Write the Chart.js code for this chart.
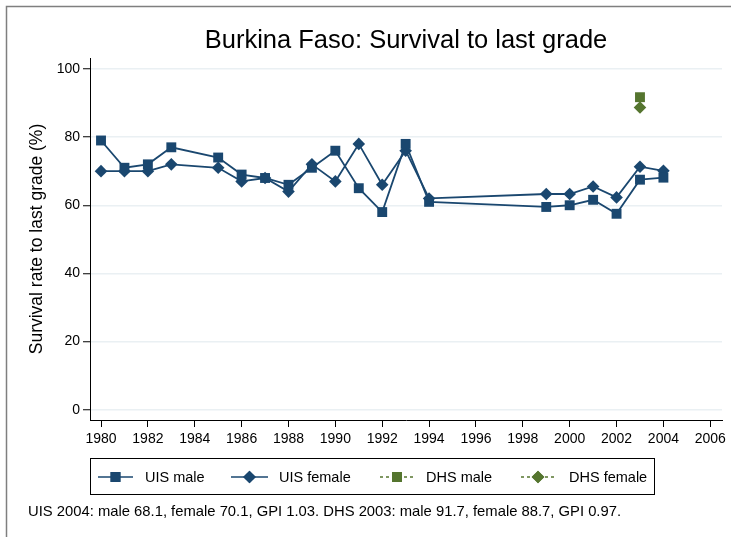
<!DOCTYPE html>
<html lang="en">
  <head>
    <meta charset="UTF-8" />
    <script src="https://cdn.jsdelivr.net/npm/chart.js@4.4.0/dist/chart.umd.min.js"></script>
    <title>Burkina Faso: Survival to last grade</title>
    <style>
      body {
        margin: 0;
        padding: 0;
        background: white;
      }
      canvas {
        display: block;
      }
    </style>
  </head>
  <body>
    <canvas id="survival" width="731" height="537"></canvas>
    <script>
      const years = [1980, 1981, 1982, 1983, 1985, 1986, 1987, 1988, 1989, 1990, 1991, 1992, 1993, 1994, 1999, 2000, 2001, 2002, 2003, 2004]
      const uisMale = [79, 71, 72, 77, 74, 69, 68, 66, 71, 76, 65, 58, 78, 61, 59.5, 60, 61.6, 57.5, 67.5, 68.1]
      const uisFemale = [70, 70, 70, 72, 71, 67, 68, 64, 72, 67, 78, 66, 76, 62, 63.3, 63.3, 65.5, 62.3, 71.3, 70.1]
      const dhsYears = [2003]
      const dhsMale = [91.7]
      const dhsFemale = [88.7]
      const xTicks = [1980, 1982, 1984, 1986, 1988, 1990, 1992, 1994, 1996, 1998, 2000, 2002, 2004, 2006]
      const yTicks = [0, 20, 40, 60, 80, 100]

      const NAVY = '#1a476f'
      const GREEN = '#55752f'
      const FONT = '"Liberation Sans", Arial, sans-serif'

      const pts = (xs, ys) => xs.map((x, i) => ({ x: x, y: ys[i] }))

      // legend entries: sample line start/end, label x
      const legendItems = [
        { label: 'UIS male', color: NAVY, style: 'rect', r: 7, dash: [], x0: 98, x1: 133, tx: 145 },
        { label: 'UIS female', color: NAVY, style: 'rectRot', r: 6.3, dash: [], x0: 231, x1: 268, tx: 279 },
        { label: 'DHS male', color: GREEN, style: 'rect', r: 7, dash: [3, 3], x0: 380, x1: 414, tx: 426 },
        { label: 'DHS female', color: GREEN, style: 'rectRot', r: 6.3, dash: [3, 3], x0: 521, x1: 555, tx: 569 },
      ]

      const decor = {
        id: 'decor',
        afterDraw(chart) {
          const ctx = chart.ctx
          const area = chart.chartArea
          ctx.save()
          // outer frame
          ctx.strokeStyle = '#7f7f7f'
          ctx.lineWidth = 1.5
          ctx.beginPath()
          ctx.moveTo(731, 6.5)
          ctx.lineTo(6.5, 6.5)
          ctx.lineTo(6.5, 537)
          ctx.stroke()

          // title
          ctx.fillStyle = '#000'
          ctx.font = '25.5px ' + FONT
          ctx.textAlign = 'center'
          ctx.textBaseline = 'middle'
          ctx.fillText('Burkina Faso: Survival to last grade', (area.left + area.right) / 2, 41)

          // legend box
          ctx.strokeStyle = '#000'
          ctx.lineWidth = 1
          ctx.strokeRect(90.5, 458.5, 564, 36)
          const ly = 477
          ctx.font = '14.5px ' + FONT
          ctx.textAlign = 'left'
          legendItems.forEach((it) => {
            ctx.strokeStyle = it.color
            ctx.lineWidth = 1.5
            ctx.setLineDash(it.dash)
            ctx.beginPath()
            ctx.moveTo(it.x0, ly)
            ctx.lineTo(it.x1, ly)
            ctx.stroke()
            ctx.setLineDash([])
            ctx.fillStyle = it.color
            Chart.helpers.drawPoint(ctx, { pointStyle: it.style, radius: it.r, borderWidth: 0 }, (it.x0 + it.x1) / 2, ly)
            ctx.fill()
            ctx.fillStyle = '#000'
            ctx.fillText(it.label, it.tx, ly + 1)
          })

          // note
          ctx.font = '14.8px ' + FONT
          ctx.fillText('UIS 2004: male 68.1, female 70.1, GPI 1.03. DHS 2003: male 91.7, female 88.7, GPI 0.97.', 28, 512)
          ctx.restore()
        },
      }

      const chart = new Chart(document.getElementById('survival').getContext('2d'), {
        type: 'scatter',
        data: {
          datasets: [
            {
              label: 'UIS male',
              data: pts(years, uisMale),
              showLine: true,
              borderColor: NAVY,
              backgroundColor: NAVY,
              borderWidth: 1.8,
              pointStyle: 'rect',
              pointRadius: 7,
              pointBorderWidth: 0,
            },
            {
              label: 'UIS female',
              data: pts(years, uisFemale),
              showLine: true,
              borderColor: NAVY,
              backgroundColor: NAVY,
              borderWidth: 1.8,
              pointStyle: 'rectRot',
              pointRadius: 6.3,
              pointBorderWidth: 0,
            },
            {
              label: 'DHS male',
              data: pts(dhsYears, dhsMale),
              borderColor: GREEN,
              backgroundColor: GREEN,
              pointStyle: 'rect',
              pointRadius: 7,
              pointBorderWidth: 0,
            },
            {
              label: 'DHS female',
              data: pts(dhsYears, dhsFemale),
              borderColor: GREEN,
              backgroundColor: GREEN,
              pointStyle: 'rectRot',
              pointRadius: 6.3,
              pointBorderWidth: 0,
            },
          ],
        },
        options: {
          responsive: false,
          animation: false,
          layout: {
            padding: { top: 58, left: 0, right: 9, bottom: 87 },
          },
          plugins: {
            legend: { display: false },
            title: { display: false },
            tooltip: { enabled: false },
          },
          scales: {
            x: {
              type: 'linear',
              min: 1979.53,
              max: 2006.5,
              afterBuildTicks: (scale) => {
                scale.ticks = xTicks.map((v) => ({ value: v }))
              },
              afterFit: (scale) => {
                scale.height = 30
              },
              ticks: {
                color: '#000',
                font: { family: FONT, size: 14 },
                padding: 4,
                maxRotation: 0,
                callback: (v) => String(v),
              },
              grid: {
                drawOnChartArea: false,
                tickLength: 7,
                tickColor: '#000',
              },
              border: { color: '#000', width: 1 },
            },
            y: {
              min: -3,
              max: 103.2,
              afterBuildTicks: (scale) => {
                scale.ticks = yTicks.map((v) => ({ value: v }))
              },
              afterFit: (scale) => {
                scale.width = 90
              },
              title: {
                display: true,
                text: 'Survival rate to last grade (%)',
                color: '#000',
                font: { family: FONT, size: 17.5 },
                padding: { top: 27, bottom: 0 },
              },
              ticks: {
                color: '#000',
                font: { family: FONT, size: 14 },
                padding: 3,
              },
              grid: {
                color: '#eaf0f3',
                lineWidth: 1.5,
                tickLength: 7,
                tickColor: '#000',
                tickWidth: 1,
              },
              border: { color: '#000', width: 1 },
            },
          },
        },
        plugins: [decor],
      })
    </script>
  </body>
</html>
